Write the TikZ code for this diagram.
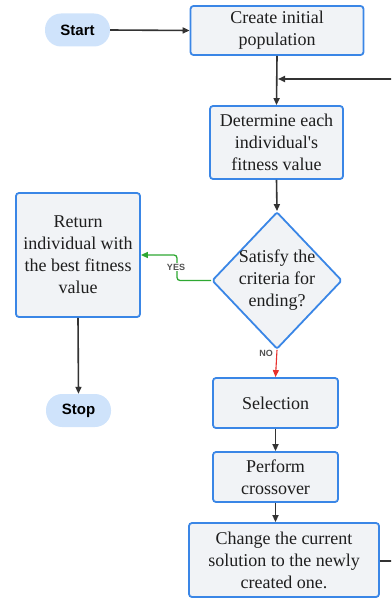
\documentclass[tikz,border=0pt]{standalone}
\usepackage{fontspec}
\setmainfont{Liberation Serif}
\newfontfamily\labfont{Liberation Sans}
\usetikzlibrary{shapes.geometric,arrows.meta}
\definecolor{boxfill}{HTML}{F1F3F6}
\definecolor{boxline}{HTML}{3A86E6}
\definecolor{termfill}{HTML}{CFE3FB}
\definecolor{arr}{HTML}{333333}
\definecolor{yesgreen}{HTML}{2EA832}
\definecolor{nored}{HTML}{E8302C}
\definecolor{txt}{HTML}{1E1E1E}
\tikzset{
  procbox/.style={draw=boxline, line width=1.8pt, fill=boxfill, rounded corners=3pt,
    inner sep=0pt, align=center, text=txt,
    font=\fontsize{18}{22}\selectfont},
  termbox/.style={fill=termfill, rounded corners=16pt, inner sep=0pt,
    minimum width=65pt, minimum height=33pt, text=black,
    font=\labfont\bfseries\fontsize{15}{18}\selectfont},
  decbox/.style={diamond, draw=boxline, line width=1.8pt, fill=boxfill,
    inner sep=0pt, rounded corners=2pt},
  flow/.style={draw=arr, line width=1.6pt, -{Triangle[length=7pt,width=6pt]}},
  lab/.style={font=\labfont\bfseries\fontsize{9}{10}\selectfont, text=arr!85, inner sep=1pt}
}
\begin{document}
\begin{tikzpicture}[x=1pt,y=-1pt]
\useasboundingbox (0,0) rectangle (391,599);
\clip (0,0) rectangle (391,599);
\node[termbox] (start) at (77.5,30) {Start};
\node[procbox, minimum width=173pt, minimum height=49pt] (create) at (277,30.5) {Create initial\\population};
\node[procbox, minimum width=133pt, minimum height=73pt] (fit) at (276.5,142.5) {Determine each\\individual\textquotesingle s\\fitness value};
\node[decbox, minimum width=130pt, minimum height=137pt] (dec) at (277,280.5) {};
\node[align=center, text=txt, font=\fontsize{18}{22}\selectfont] (dectext) at (277,280) {Satisfy the\\criteria for\\ending?};
\node[procbox, minimum width=124pt, minimum height=124pt] (ret) at (78,255) {Return\\individual with\\the best fitness\\value};
\node[termbox] (stop) at (78.5,410.5) {Stop};
\node[procbox, minimum width=125pt, minimum height=50pt] (sel) at (275.5,403) {Selection};
\node[procbox, minimum width=125pt, minimum height=50pt] (cross) at (275.5,477) {Perform\\crossover};
\node[procbox, minimum width=190pt, minimum height=74pt] (chg) at (284,560) {Change the current\\solution to the newly\\created one.};
\coordinate (loopa) at (410,561);
\coordinate (loopb) at (410,79);
\coordinate (loopc) at (278,79);

\draw[flow] (start.east) -- (create.west);
\draw[flow] (create.south) -- (fit.north);
\draw[flow] (fit.south) -- (dec.north);
\draw[flow, draw=yesgreen, rounded corners=3pt, line width=1.3pt] (dec.west) -- (177,280.5) -- (177,255) -- (ret.east);
\node[lab, fill=white] (yes) at (176,267) {YES};
\draw[flow, draw=nored, line width=1.1pt] (dec.south) -- (sel.north);
\node[lab] (no) at (266,353) {NO};
\draw[flow] (ret.south) -- (stop.north);
\draw[flow] (sel.south) -- (cross.north);
\draw[flow] (cross.south) -- (cross.south |- chg.north);
\draw[flow] (chg.east |- loopa) -- (loopa) -- (loopb) -- (loopc);
\end{tikzpicture}
\end{document}
